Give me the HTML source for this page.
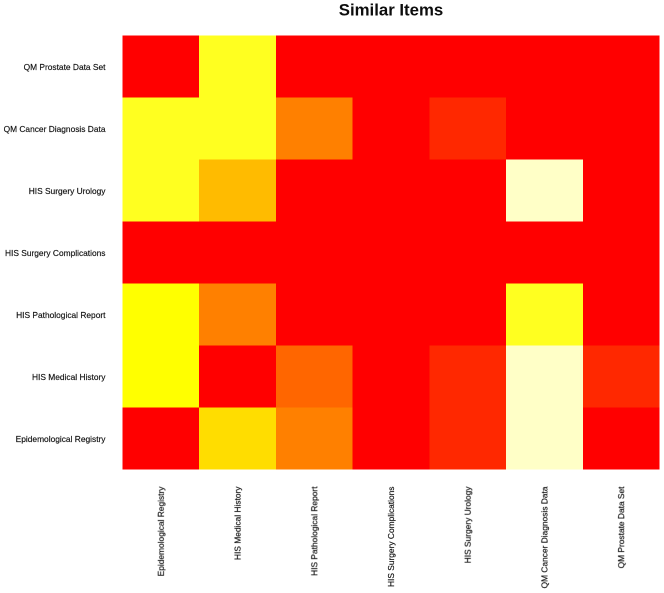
<!DOCTYPE html>
<html lang="en">
<head>
<meta charset="utf-8">
<title>Similar Items</title>
<style>
html,body{margin:0;padding:0;background:#fff;width:664px;height:593px;overflow:hidden}
svg{display:block}
text{font-family:"Liberation Sans",sans-serif;fill:#111}
.tick{font-size:8.4px;stroke:#111;stroke-width:.15px;filter:url(#soft)}
.title{font-size:16.8px;font-weight:bold;filter:url(#soft)}
</style>
</head>
<body>
<svg id="chart" width="664" height="593" viewBox="0 0 664 593" xmlns="http://www.w3.org/2000/svg">
<defs><filter id="soft" x="-5%" y="-5%" width="110%" height="110%"><feGaussianBlur stdDeviation="0.3"/></filter></defs>
<text class="title" x="391" y="15.5" text-anchor="middle">Similar Items</text>
</svg>
<script>
const xCategories = ["Epidemological Registry","HIS Medical History","HIS Pathological Report","HIS Surgery Complications","HIS Surgery Urology","QM Cancer Diagnosis Data","QM Prostate Data Set"];
const yCategories = ["QM Prostate Data Set","QM Cancer Diagnosis Data","HIS Surgery Urology","HIS Surgery Complications","HIS Pathological Report","HIS Medical History","Epidemological Registry"];
const rowProstate = [0, .787, 0, 0, 0, 0, 0];
const rowCancer = [.787, .787, .376, 0, .118, 0, 0];
const rowUrology = [.787, .55, 0, 0, 0, .98, 0];
const rowComplications = [0, 0, 0, 0, 0, 0, 0];
const rowPathological = [.75, .376, 0, 0, 0, .787, 0];
const rowHistory = [.75, 0, .3, 0, .118, .98, .118];
const rowEpidemological = [0, .65, .376, 0, .118, .98, 0];
const matrix = [rowProstate, rowCancer, rowUrology, rowComplications, rowPathological, rowHistory, rowEpidemological];

const svg = document.getElementById('chart');
const NS = 'http://www.w3.org/2000/svg';
const plot = {left: 122.5, right: 659.5, top: 35.5, bottom: 469.5};
const xScale = i => plot.left + i * (plot.right - plot.left) / xCategories.length;
const yScale = i => plot.top + i * (plot.bottom - plot.top) / yCategories.length;
function heat(v) {
  if (v <= .75) return 'rgb(255,' + Math.round(255 * v / .75) + ',0)';
  return 'rgb(255,255,' + Math.round(216 * (v - .75) / .25) + ')';
}
matrix.forEach((row, r) => {
  row.forEach((v, c) => {
    const cell = document.createElementNS(NS, 'rect');
    
    
    cell.setAttribute('x', xScale(c));
    cell.setAttribute('y', yScale(r));
    cell.setAttribute('width', xScale(c + 1) - xScale(c));
    cell.setAttribute('height', yScale(r + 1) - yScale(r));
    cell.setAttribute('fill', heat(v));
    cell.setAttribute('shape-rendering', 'crispEdges');
    svg.appendChild(cell);
  });
});
yCategories.forEach((name, r) => {
  const t = document.createElementNS(NS, 'text');
  
  
  t.setAttribute('class', 'tick');
  t.setAttribute('x', 105.5);
  t.setAttribute('y', (yScale(r) + yScale(r + 1)) / 2 + 3.5);
  t.setAttribute('text-anchor', 'end');
  t.textContent = name;
  svg.appendChild(t);
});
xCategories.forEach((name, c) => {
  const t = document.createElementNS(NS, 'text');
  const px = (xScale(c) + xScale(c + 1)) / 2 + 3;
  const py = 486.5;
  
  
  t.setAttribute('class', 'tick');
  t.setAttribute('x', px);
  t.setAttribute('y', py);
  t.setAttribute('text-anchor', 'end');
  t.setAttribute('transform', 'rotate(-90 ' + px + ' ' + py + ')');
  t.textContent = name;
  svg.appendChild(t);
});
</script>
</body>
</html>
